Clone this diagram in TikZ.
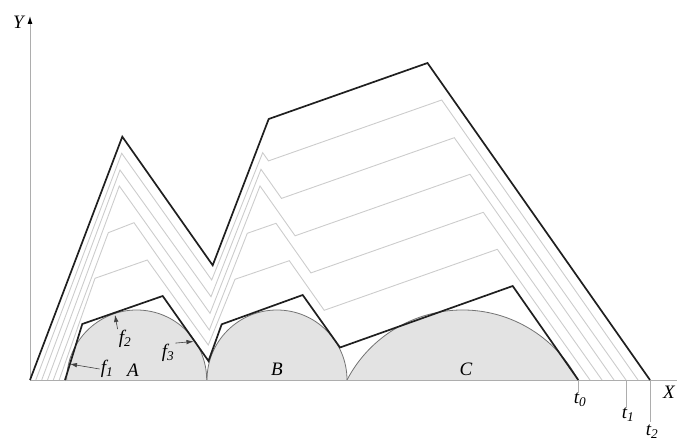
\documentclass[tikz,border=0pt]{standalone}
\usepackage{fontspec}
\setmainfont{Liberation Serif}
\usetikzlibrary{arrows.meta}
\begin{document}
\begin{tikzpicture}[x=1pt,y=-1pt,
  blk/.style={line width=1.7pt, black!88, line join=miter},
  gry/.style={line width=0.9pt, black!20, line join=miter},
  disk/.style={fill=black!11},
  rim/.style={line width=0.8pt, black!55},
  axisline/.style={line width=1pt, black!32},
  lbl/.style={font=\fontsize{19}{22}\selectfont\itshape, inner sep=1pt},
  pointer/.style={line width=0.6pt, black!75, -{Latex[length=7pt,width=4.5pt]}}]
\useasboundingbox (0,0) rectangle (677,443);

% disks A, B, C
\fill[disk] (66.7,380) arc[start angle=180, end angle=0, radius=70pt] -- cycle;
\fill[disk] (207,380) arc[start angle=180, end angle=0, radius=70pt] -- cycle;
\fill[disk] (347,380) arc[start angle=152.43, end angle=27.57, radius=130.3pt] -- cycle;
\draw[rim] (66.7,380) arc[start angle=180, end angle=0, radius=70pt];
\draw[rim] (207,380) arc[start angle=180, end angle=0, radius=70pt];
\draw[rim] (347,380) arc[start angle=152.43, end angle=27.57, radius=130.3pt];

% intermediate fronts
\draw[gry] (59.2,380) -- (95,278.3) -- (147.3,260) -- (208.3,345) -- (235,279.3) -- (289.3,260.7) -- (324.2,310.3) -- (497.3,249.3) -- (590,380);
\draw[gry] (53.3,380) -- (108.3,232.7) -- (134,222.7) -- (209.3,330) -- (247.3,233.3) -- (276,223.3) -- (310.9,272.9) -- (483.3,212.3) -- (602,380);
\draw[gry] (47.5,380) -- (119.3,186) -- (210,313.3) -- (260,186) -- (295.1,235.8) -- (470,174.3) -- (614,380);
\draw[gry] (41.7,380) -- (120,170) -- (211,296.7) -- (261,169.3) -- (281.5,198.4) -- (454.3,137.7) -- (626,380);
\draw[gry] (35.8,380) -- (121.7,153.3) -- (211.7,280) -- (262.7,152.7) -- (268.5,160.9) -- (441.7,100) -- (638,380);

% axes
\coordinate (O) at (30,380);
\coordinate (Ytop) at (30,16);
\coordinate (Xend) at (677,380);
\draw[axisline] (O) -- (Xend);
\draw[axisline, -{Latex[length=8pt,width=5pt,black]}] (O) -- (Ytop);
\node[lbl, anchor=east] (Ylab) at (25,22) {Y};
\node[lbl] (Xlab) at (669,392) {X};

% ticks
\coordinate (t0a) at (578.3,380); \coordinate (t0b) at (578.3,393);
\coordinate (t1a) at (626,380);   \coordinate (t1b) at (626,408);
\coordinate (t2a) at (650,380);   \coordinate (t2b) at (650,422);
\draw[axisline] (t0a) -- (t0b);
\draw[axisline] (t1a) -- (t1b);
\draw[axisline] (t2a) -- (t2b);
\node[lbl, anchor=north] (t0lab) at (580,392) {t\textsubscript{0}};
\node[lbl, anchor=north] (t1lab) at (628,407) {t\textsubscript{1}};
\node[lbl, anchor=south, inner sep=0pt] (t2lab) at (652,439) {t\textsubscript{2}};

% initial and final fronts
\draw[blk] (65,380) -- (82.3,324) -- (162.7,296) -- (208.5,361) -- (221.7,324.3) -- (302.7,295) -- (340,347.5) -- (512.7,286) -- (578.3,380);
\draw[blk] (30,380) -- (122.3,136.7) -- (212.7,265.3) -- (268.7,119) -- (427.5,63) -- (650,380);

% labels
\node[lbl] (A) at (133,370) {A};
\node[lbl] (B) at (277,369) {B};
\node[lbl] (C) at (466,369) {C};
\node[lbl] (f1) at (107,369) {f\textsubscript{1}};
\node[lbl] (f2) at (125,339) {f\textsubscript{2}};
\node[lbl] (f3) at (168,353) {f\textsubscript{3}};
\coordinate (p1) at (70,364);
\coordinate (p2) at (115,315);
\coordinate (p3) at (193.5,341.5);
\draw[pointer] (f1.west) -- (p1);
\draw[pointer] (f2.north west) -- (p2);
\draw[pointer] (f3.north east) -- (p3);
\end{tikzpicture}
\end{document}
